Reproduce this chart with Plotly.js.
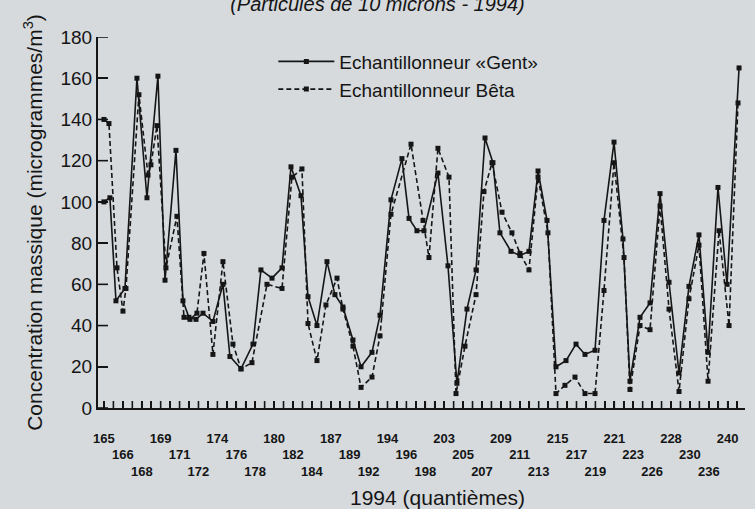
<!DOCTYPE html>
<html>
<head>
<meta charset="utf-8">
<script src="https://cdn.plot.ly/plotly-3.0.1.min.js"></script>
<style>
  html, body { margin: 0; padding: 0; background: #d6dadd; }
  #chart { width: 755px; height: 509px; }
</style>
</head>
<body>
<div id="chart"></div>
<script>
// Day-of-year labels printed under the axis (one every two sample slots)
const dayLabels = [165,166,168,169,171,172,174,176,178,180,182,184,187,189,192,194,196,198,
                   203,205,207,209,211,213,215,217,219,221,223,226,228,230,236,240];
const sampleSlots = 68; // tick marks along the axis

// Échantillonneur «Gent» : sample position (in slot units) and concentration
const gentPos = [0,0.63,1.27,2.22,3.49,4.55,5.71,6.46,7.62,8.36,8.99,9.74,10.48,11.53,12.59,13.33,
                 14.50,15.77,16.61,17.78,18.84,19.79,20.85,21.59,22.54,23.60,24.44,25.29,26.35,27.20,
                 28.36,29.21,30.37,31.53,32.28,33.12,33.86,35.34,36.40,37.35,38.41,39.37,40.32,41.16,
                 41.90,43.07,44.02,44.97,45.93,46.88,47.83,48.89,49.95,50.90,51.96,52.91,53.97,54.92,
                 55.66,56.72,57.78,58.84,59.79,60.85,61.90,62.96,63.92,64.97,65.93,67.20];
const gentVal = [100,102,52,58,160,102,161,62,125,52,44,43,46,42,60,25,19,31,67,63,68,117,103,54,
                 40,71,55,49,33,20,27,45,101,121,92,86,86,114,69,12,48,67,131,119,85,76,74,76,115,91,
                 20,23,31,26,28,91,129,82,13,44,51,104,61,17,59,84,27,107,60,165];

// Échantillonneur Bêta
const betaPos = [0,0.53,1.38,2.01,2.33,3.70,4.66,4.97,5.61,6.56,7.72,8.47,9.10,9.84,10.58,11.53,
                 12.59,13.65,14.50,15.66,17.25,18.84,19.89,20.95,21.59,22.54,23.49,24.66,25.29,26.35,
                 27.20,28.36,29.21,30.37,32.49,33.76,34.39,35.34,36.51,37.25,38.20,39.37,40.21,41.06,
                 42.12,43.17,44.02,44.97,45.93,46.98,47.83,48.78,49.84,50.90,51.96,52.91,53.97,55.03,
                 55.66,56.72,57.78,58.84,59.79,60.85,61.90,62.96,63.92,65.08,66.14,67.09];
const betaVal = [140,138,68,47,58,152,113,118,137,68,93,44,43,46,75,26,71,31,19,22,60,58,112,116,
                 41,23,50,63,48,30,10,15,35,94,128,91,73,126,112,7,30,55,105,119,95,85,75,67,112,85,
                 7,11,15,7,7,57,119,73,9,40,38,98,48,8,53,79,13,86,40,148];

const yTicks = [0,20,40,60,80,100,120,140,160,180];

// Tick slots; staggered (3-row) day labels on every second slot.
// A blank first line keeps the labels clear of the inward tick marks.
const tickvals = [], ticktext = [];
for (let i = 0; i < sampleSlots; i++) {
  tickvals.push(i);
  const k = i / 2;
  if (i % 2 === 0 && dayLabels[k] !== undefined) {
    ticktext.push('\u00a0<br>'.repeat(1 + (k % 3)) + dayLabels[k]);
  } else {
    ticktext.push('');
  }
}

const FONT = 'Liberation Sans, Arial, Helvetica, sans-serif';
const INK = '#151515';
const XRANGE = [-0.63, 67.83];
const YRANGE = [0, 180];

// Inward tick marks as pixel-length line shapes anchored on the axis values
const tickShapes = [];
tickvals.forEach(v => tickShapes.push({
  type: 'line', xref: 'x', yref: 'y', x0: v, x1: v,
  ysizemode: 'pixel', yanchor: YRANGE[0], y0: 0, y1: 7,
  line: { color: INK, width: 1.6 }, layer: 'above'
}));
yTicks.forEach(v => tickShapes.push({
  type: 'line', xref: 'x', yref: 'y', y0: v, y1: v,
  xsizemode: 'pixel', xanchor: XRANGE[0], x0: 0, x1: 10,
  line: { color: INK, width: 1.6 }, layer: 'above'
}));

const traces = [
  {
    x: gentPos, y: gentVal, type: 'scatter', mode: 'lines+markers',
    name: 'Echantillonneur «Gent»', legendgroup: 'g',
    line: { color: INK, width: 1.6 },
    marker: { symbol: 'square', size: 5, color: INK }
  },
  {
    x: betaPos, y: betaVal, type: 'scatter', mode: 'lines+markers',
    name: 'Echantillonneur Bêta', legendgroup: 'b',
    line: { color: INK, width: 1.6, dash: '5px,3px' },
    marker: { symbol: 'square', size: 5, color: INK }
  }
];

const layout = {
  width: 755, height: 509,
  margin: { l: 98, r: 10, t: 37, b: 101 },
  paper_bgcolor: '#d6dadd', plot_bgcolor: '#d6dadd',
  font: { family: FONT, color: INK },
  showlegend: true,
  title: {
    text: '<i>(Particules de 10 microns - 1994)</i>',
    font: { size: 20, family: FONT, color: INK },
    x: 0.5, xref: 'container', y: 0.992, yref: 'container', yanchor: 'middle'
  },
  legend: {
    x: 0.271, y: 0.985, xanchor: 'left', yanchor: 'top',
    bgcolor: 'rgba(0,0,0,0)', borderwidth: 0,
    font: { size: 19, family: FONT, color: INK },
    itemwidth: 56, tracegroupgap: 6, traceorder: 'normal'
  },
  shapes: tickShapes,
  annotations: [{
    text: '1994 (quantièmes)', xref: 'paper', yref: 'paper',
    x: 0.524, y: -0.240, xanchor: 'center', yanchor: 'middle', showarrow: false,
    font: { size: 21, family: FONT, color: INK }
  }],
  xaxis: {
    range: XRANGE,
    tickmode: 'array', tickvals: tickvals, ticktext: ticktext, tickangle: 0,
    ticks: 'inside', ticklen: 7, tickwidth: 1.6, tickcolor: INK,
    tickfont: { size: 13, family: FONT, color: INK, weight: 'bold' },
    showline: true, linecolor: INK, linewidth: 2,
    showgrid: false, zeroline: false
  },
  yaxis: {
    range: YRANGE, tickmode: 'array', tickvals: yTicks,
    ticks: 'inside', ticklen: 10, tickwidth: 1.6, tickcolor: INK,
    ticksuffix: ' ',
    tickfont: { size: 19, family: FONT, color: INK },
    showline: true, linecolor: INK, linewidth: 2,
    showgrid: false, zeroline: false,
    title: { text: 'Concentration massique (microgrammes/m<sup>3</sup>)', font: { size: 21, family: FONT, color: INK }, standoff: 12 }
  }
};

Plotly.newPlot('chart', traces, layout, { displayModeBar: false, staticPlot: true });
</script>
</body>
</html>
